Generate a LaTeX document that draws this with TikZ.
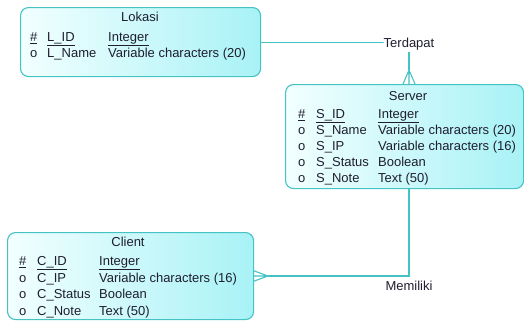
\documentclass[tikz,border=0pt]{standalone}
\usepackage{fontspec}
\setmainfont{Liberation Sans}
\definecolor{edge}{HTML}{45C2C4}
\definecolor{fillA}{HTML}{F2FFFF}
\definecolor{fillB}{HTML}{A8F2F6}
\definecolor{ink}{HTML}{1E1E2E}
\tikzset{
  entity/.style={draw=edge, line width=1.1pt, rounded corners=8pt, left color=fillA, right color=fillB, inner sep=0pt, anchor=north west},
  txt/.style={anchor=base west, inner sep=0pt, text=ink, font=\fontsize{13}{14}\selectfont},
  ttl/.style={anchor=base, inner sep=0pt, text=ink, font=\fontsize{13}{14}\selectfont},
  conn/.style={draw=edge, line width=1.1pt},
  lbl/.style={anchor=base, inner sep=0pt, text=ink, font=\fontsize{13}{14}\selectfont},
}
\begin{document}
\begin{tikzpicture}[x=1pt,y=-1pt]
\useasboundingbox (0,0) rectangle (524,322);
% boxes
\node[entity, minimum width=240pt, minimum height=69pt] (lok) at (20,7) {};
\node[entity, minimum width=238pt, minimum height=104pt] (srv) at (285,84) {};
\node[entity, minimum width=246pt, minimum height=87pt] (cli) at (7,232) {};
% Lokasi text
\node[ttl] (lokT) at (140,21.5) {Lokasi};
\node[txt] (l1a) at (30,41.5) {\underline{\#}};
\node[txt] (l1b) at (47,41.5) {\underline{L\_ID}};
\node[txt] (l1c) at (108,41.5) {\underline{Integer}};
\node[txt] (l2a) at (30,57.5) {o};
\node[txt] (l2b) at (47,57.5) {L\_Name};
\node[txt] (l2c) at (108,57.5) {Variable characters (20)};
% Server text
\node[ttl] (srvT) at (408,100.5) {Server};
\node[txt] (s1a) at (298,118.5) {\underline{\#}};
\node[txt] (s1b) at (316,118.5) {\underline{S\_ID}};
\node[txt] (s1c) at (378,118.5) {\underline{Integer}};
\node[txt] (s2a) at (298,134.5) {o};
\node[txt] (s2b) at (316,134.5) {S\_Name};
\node[txt] (s2c) at (378,134.5) {Variable characters (20)};
\node[txt] (s3a) at (298,150.5) {o};
\node[txt] (s3b) at (316,150.5) {S\_IP};
\node[txt] (s3c) at (378,150.5) {Variable characters (16)};
\node[txt] (s4a) at (298,166.5) {o};
\node[txt] (s4b) at (316,166.5) {S\_Status};
\node[txt] (s4c) at (378,166.5) {Boolean};
\node[txt] (s5a) at (298,182.5) {o};
\node[txt] (s5b) at (316,182.5) {S\_Note};
\node[txt] (s5c) at (378,182.5) {Text (50)};
% Client text
\node[ttl] (cliT) at (128,246.5) {Client};
\node[txt] (c1a) at (19,265.5) {\underline{\#}};
\node[txt] (c1b) at (37,265.5) {\underline{C\_ID}};
\node[txt] (c1c) at (99,265.5) {\underline{Integer}};
\node[txt] (c2a) at (19,282) {o};
\node[txt] (c2b) at (37,282) {C\_IP};
\node[txt] (c2c) at (99,282) {Variable characters (16)};
\node[txt] (c3a) at (19,298.5) {o};
\node[txt] (c3b) at (37,298.5) {C\_Status};
\node[txt] (c3c) at (99,298.5) {Boolean};
\node[txt] (c4a) at (19,315) {o};
\node[txt] (c4b) at (37,315) {C\_Note};
\node[txt] (c4c) at (99,315) {Text (50)};
% relationship labels
\node[lbl] (terdapat) at (409,47) {Terdapat};
\node[lbl] (memiliki) at (409,290) {Memiliki};
% connectors
\coordinate (t1) at (409,52);
\coordinate (t2) at (409,70);
\coordinate (m1) at (409,276);
\coordinate (m2) at (268,276);
\draw[conn] (lok.east) -- (terdapat.west |- lok.east) -- ++(-2,0);
\draw[conn] (t1) -- (t2);
\draw[conn] (t2) -- (403,84) (t2) -- (409,84) (t2) -- (415,84);
\draw[conn] (srv.south -| m1) -- (m1) -- (m2);
\draw[conn] (m2) -- (253,270.5) (m2) -- (253,276) (m2) -- (253,281.5);
\end{tikzpicture}
\end{document}
